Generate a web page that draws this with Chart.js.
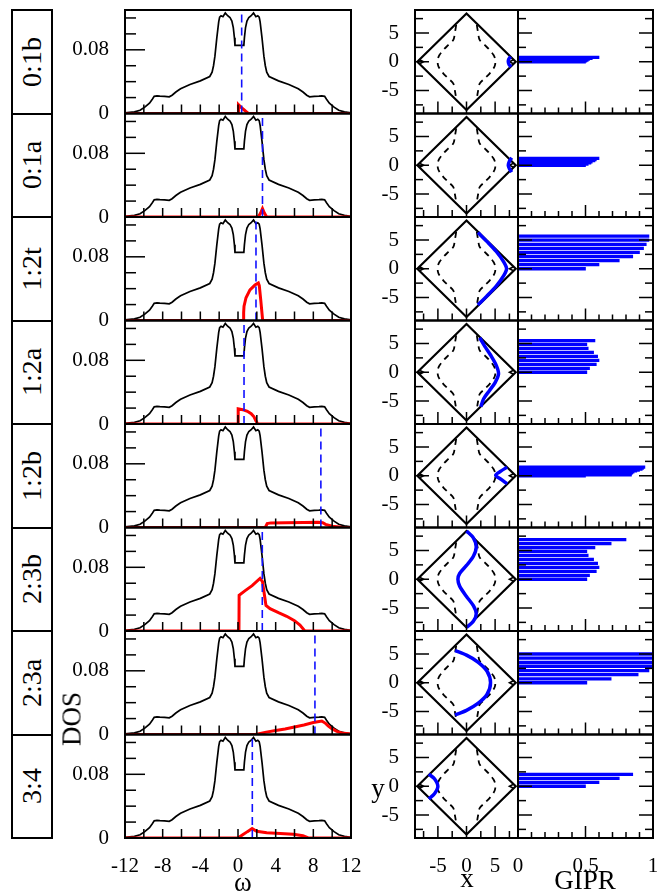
<!DOCTYPE html>
<html>
<head>
<meta charset="utf-8">
<script src="https://cdn.jsdelivr.net/npm/chart.js@4.4.1/dist/chart.umd.min.js"></script>
<style>
  body { margin: 0; background: #fff; }
  #fig { position: relative; width: 667px; height: 894px; overflow: hidden; font-family: "Liberation Serif", "DejaVu Serif", serif; color: #000; }
  #fig canvas { position: absolute; }
  .lab { position: absolute; left: 11px; width: 42px; border: 2px solid #000; box-sizing: border-box; display: flex; align-items: center; justify-content: center; }
  .lab span { transform: rotate(-90deg); font-size: 28px; white-space: nowrap; }
  .txt { position: absolute; transform: translate(-50%, -50%); font-size: 27px; white-space: nowrap; }
</style>
</head>
<body>
<div id="fig"></div>
<script>
const rowLabels = ['0:1b', '0:1a', '1:2t', '1:2a', '1:2b', '2:3b', '2:3a', '3:4'];

// total DOS (black), same curve in every row
const dosOmega = [-12, -11, -10.4, -9.9, -9.4, -9.1, -8.9, -8.6, -8.3, -7.8, -7.3, -7.0, -6.6, -6.1, -5.1, -4.0, -3.0, -2.75, -2.6, -2.45, -2.25, -2.05, -1.95, -1.8, -1.6, -1.35, -1.1, -0.85, -0.65, -0.5, -0.38, -0.32,
                  0.62, 0.68, 0.8, 0.95, 1.15, 1.4, 1.65, 1.9, 2.1, 2.25, 2.35, 2.55, 2.75, 2.9, 3.05, 3.3, 4.3, 5.4, 6.4, 6.9, 7.3, 7.6, 8.1, 8.6, 8.9, 9.2, 9.4, 9.7, 10.2, 10.7, 11.3, 12];
const dosValue = [0.0008, 0.002, 0.004, 0.008, 0.013, 0.018, 0.0215, 0.0222, 0.0218, 0.0216, 0.021, 0.023, 0.027, 0.031, 0.0365, 0.041, 0.0465, 0.052, 0.06, 0.072, 0.095, 0.115, 0.121, 0.1228, 0.1216, 0.1262, 0.1228, 0.1206, 0.116, 0.108, 0.095, 0.0855,
                  0.0855, 0.095, 0.108, 0.116, 0.1206, 0.1228, 0.1262, 0.1216, 0.1228, 0.121, 0.115, 0.095, 0.072, 0.06, 0.052, 0.0465, 0.041, 0.0365, 0.031, 0.027, 0.023, 0.021, 0.0216, 0.0218, 0.0222, 0.0215, 0.018, 0.013, 0.008, 0.004, 0.002, 0.0008];

// partial DOS (red), one list per row
const pdosOmega = [
  [-12, 0.02, 0.05, 0.3, 0.6, 0.9, 1.1, 12],
  [-12, 2.15, 2.4, 2.6, 2.8, 3.05, 12],
  [-12, 0.57, 0.6, 0.64, 0.85, 1.27, 1.8, 2.16, 2.26, 2.41, 2.62, 12],
  [-12, 0, 0.02, 0.5, 1.0, 1.4, 1.7, 1.9, 2.1, 12],
  [-12, 2.9, 3.1, 3.5, 5, 7, 8.5, 9.0, 9.3, 10, 11, 12],
  [-12, 0.1, 0.12, 0.8, 1.5, 2.34, 2.6, 2.97, 3.4, 4.3, 5.17, 6.0, 6.58, 7.1, 12],
  [-12, 1.8, 2, 3, 4, 5, 6, 7, 8, 8.9, 9.3, 9.6, 10, 10.5, 11, 12],
  [-12, 0, 0.5, 1.0, 1.5, 1.98, 3.05, 4.5, 5.87, 6.9, 7.47, 12]
];
const pdosValue = [
  [0, 0, 0.011, 0.008, 0.005, 0.002, 0, 0],
  [0, 0, 0.005, 0.0105, 0.005, 0, 0],
  [0, 0, 0.01, 0.018, 0.0286, 0.0385, 0.0445, 0.047, 0.0437, 0.0265, 0, 0],
  [0, 0, 0.019, 0.018, 0.016, 0.013, 0.009, 0.004, 0, 0],
  [0, 0, 0.005, 0.0058, 0.006, 0.0063, 0.0065, 0.006, 0.004, 0.0015, 0.0003, 0],
  [0, 0, 0.045, 0.051, 0.057, 0.066, 0.062, 0.032, 0.028, 0.023, 0.0185, 0.013, 0.0075, 0, 0],
  [0, 0, 0.0005, 0.003, 0.005, 0.007, 0.0095, 0.012, 0.015, 0.017, 0.014, 0.0105, 0.007, 0.004, 0.002, 0.0005],
  [0, 0, 0.004, 0.008, 0.0118, 0.0085, 0.0065, 0.0055, 0.0047, 0.0028, 0, 0]
];

// blue dashed marker
const markerOmega = [0.39, 2.6, 1.91, 0.64, 8.8, 2.58, 8.17, 1.52];

// Fermi surface panel
const diamondX = [-8.6, 0, 8.6, 0, -8.6];
const diamondY = [0, 8.4, 0, -8.4, 0];
const contourRX = [1.8, 2.0, 2.3, 3.2, 4.0, 4.7, 5.0, 5.0, 4.7, 4.0, 3.2, 2.3, 2.0, 1.8];
const contourRY = [6.4, 5.2, 3.8, 2.9, 2.1, 1.2, 0.5, -0.5, -1.2, -2.1, -2.9, -3.8, -5.2, -6.4];
const contourLX = [-1.8, -2.0, -2.3, -3.2, -4.0, -4.7, -5.0, -5.0, -4.7, -4.0, -3.2, -2.3, -2.0, -1.8];
const contourLY = [6.4, 5.2, 3.8, 2.9, 2.1, 1.2, 0.5, -0.5, -1.2, -2.1, -2.9, -3.8, -5.2, -6.4];
const cornerLX = [-8.2, -7.5, -8.2];
const cornerLY = [0.35, 0, -0.35];
const cornerRX = [8.2, 7.5, 8.2];
const cornerRY = [0.35, 0, -0.35];

// blue path, one per row
const pathX = [
  [7.7, 7.4, 7.3, 7.45, 7.8],
  [7.9, 7.5, 7.3, 7.5, 7.9],
  [2.0, 3.5, 5.2, 6.5, 7.0, 6.5, 5.2, 3.5, 2.0],
  [2.3, 3.2, 4.2, 5.2, 5.6, 5.0, 4.0, 3.0, 2.5],
  [7.1, 6.0, 5.1, 6.0, 7.1],
  [0, 1.2, 1.7, 1.2, 0, -1.2, -1.5, -1.2, 0, 1.2, 1.7, 1.2, 0],
  [-2, 0, 2, 3.6, 4.2, 3.6, 2, 0, -2],
  [-6.6, -5.6, -5.0, -5.6, -6.6]
];
const pathY = [
  [0.9, 0.5, 0, -0.5, -0.9],
  [1.3, 0.7, 0, -0.6, -1.2],
  [6.3, 4.8, 3.0, 1.2, 0, -1.2, -3.0, -4.8, -6.3],
  [6.0, 4.5, 3.0, 1.2, -0.3, -1.8, -3.2, -4.6, -6.0],
  [1.5, 0.8, 0.1, -0.6, -1.4],
  [8.4, 7.2, 5.6, 4.0, 2.4, 1.0, 0, -1.2, -3.0, -4.6, -6.0, -7.3, -8.4],
  [5.6, 4.8, 3.6, 2, 0, -2, -3.6, -4.8, -5.6],
  [2.1, 1.3, 0, -1.3, -2.2]
];

// GIPR bars
const giprY = [
  [0, 0.15, 0.3, 0.45, 0.6, 0.75],
  [0, 0.2, 0.4, 0.6, 0.8, 1.0, 1.2],
  [0, 0.71, 1.42, 2.13, 2.84, 3.55, 4.26, 4.97, 5.68],
  [0, 0.69, 1.38, 2.07, 2.76, 3.45, 4.14, 4.83, 5.52],
  [0, 0.17, 0.33, 0.5, 0.67, 0.83, 1.0, 1.17, 1.33, 1.5],
  [0, 0.69, 1.38, 2.07, 2.76, 3.45, 4.14, 4.83, 5.52, 6.21, 6.9],
  [0, 0.69, 1.43, 2.12, 2.87, 3.56, 4.3, 5.0],
  [0, 0.69, 1.38, 2.07]
];
const giprValue = [
  [0.5, 0.51, 0.52, 0.53, 0.55, 0.6],
  [0.5, 0.52, 0.54, 0.55, 0.57, 0.58, 0.6],
  [0.5, 0.6, 0.75, 0.85, 0.9, 0.93, 0.95, 0.97, 0.97],
  [0.51, 0.53, 0.58, 0.6, 0.59, 0.56, 0.52, 0.51, 0.57],
  [0.5, 0.84, 0.84, 0.85, 0.86, 0.88, 0.9, 0.92, 0.93, 0.94],
  [0.51, 0.53, 0.58, 0.6, 0.59, 0.56, 0.52, 0.51, 0.57, 0.69, 0.8],
  [0.51, 0.69, 0.89, 0.97, 0.99, 1.0, 1.0, 1.0],
  [0.5, 0.6, 0.75, 0.85]
];

// tick positions
const omegaTicks = [-10, -8, -6, -4, -2, 0, 2, 4, 6, 8, 10];
const dosTicks = [0.02, 0.04, 0.06, 0.08, 0.1, 0.12];
const kTicks = [-7.5, -5, -2.5, 0, 2.5, 5, 7.5];
const giprTicks = [0.1, 0.2, 0.3, 0.4, 0.5, 0.6, 0.7, 0.8, 0.9];

const FONT = '"Liberation Serif", "DejaVu Serif", serif';
Chart.defaults.font.family = FONT;
Chart.defaults.color = '#000';

const ROW_TOP = 10, ROW_H = 103.5;
const fig = document.getElementById('fig');
const tickMarks = new Map();

// inward tick marks + frame, drawn from the chart's own scales
const framePlugin = {
  id: 'frame',
  afterDraw(chart) {
    const ctx = chart.ctx;
    const a = chart.chartArea;
    const marks = tickMarks.get(chart.canvas.id) || [];
    ctx.save();
    ctx.setLineDash([]);
    ctx.fillStyle = '#000';
    for (const m of marks) {
      const s = chart.scales[m.scale];
      for (const v of m.values) {
        const len = m.major.indexOf(v) >= 0 ? m.long : m.short;
        const p = s.getPixelForValue(v);
        if (m.side === 'bottom') ctx.fillRect(p - 0.75, a.bottom - len, 1.5, len);
        else if (m.side === 'left') ctx.fillRect(a.left, p - 0.75, len, 1.5);
        else ctx.fillRect(a.right - len, p - 0.75, len, 1.5);
      }
    }
    ctx.lineWidth = 2;
    ctx.strokeStyle = '#000';
    ctx.strokeRect(a.left, a.top, a.right - a.left, a.bottom - a.top);
    ctx.restore();
  }
};

function xy(xs, ys) { return xs.map((x, i) => ({ x: x, y: ys[i] })); }
function near(a, b) { return Math.abs(a - b) < 1e-6; }

let canvasCount = 0;
// canvas placed so the plot area lands exactly on the given box
function placeCanvas(plotL, plotT, plotW, plotH, pad, marks) {
  const cl = plotL - pad.l;
  const ct = Math.floor(plotT) - pad.t;
  const cw = plotW + pad.l + pad.r;
  const ch = Math.ceil(plotT + plotH - ct + pad.b);
  const c = document.createElement('canvas');
  c.id = 'cv' + (canvasCount++);
  c.width = cw; c.height = ch;
  c.style.left = cl + 'px'; c.style.top = ct + 'px';
  c.style.width = cw + 'px'; c.style.height = ch + 'px';
  fig.appendChild(c);
  tickMarks.set(c.id, marks);
  return { canvas: c, layout: { left: 0, right: pad.r, top: plotT - ct, bottom: ch - (plotT + plotH - ct) - pad.b } };
}

function axis(min, max, step, showLabels, labelFn, size, isX) {
  return {
    type: 'linear', min: min, max: max, offset: false,
    grid: { display: false }, border: { display: false },
    ticks: {
      stepSize: step, includeBounds: false, autoSkip: false, maxRotation: 0,
      display: showLabels, padding: 8, font: { size: 21, family: FONT }, color: '#000',
      callback: labelFn
    },
    afterFit: s => {
      if (isX) s.height = size; else s.width = size;
      s.paddingLeft = 0; s.paddingRight = 0; s.paddingTop = 0; s.paddingBottom = 0;
    }
  };
}

function common(layout) {
  return {
    responsive: false, animation: false, events: [],
    layout: { padding: layout },
    plugins: { legend: { display: false }, tooltip: { enabled: false } }
  };
}

const dosLabel = v => (near(v, 0) ? '0' : near(v, 0.08) ? '0.08' : '');
const omegaLabel = v => (near(v % 4, 0) ? String(v) : '');
const fiveLabel = v => (near(v, 0) ? '0' : near(v, 5) ? '5' : near(v, -5) ? '-5' : '');
const giprLabel = v => (near(v, 0) ? '0' : near(v, 0.5) ? '0.5' : near(v, 1) ? '1' : '');

rowLabels.forEach((name, r) => {
  const top = ROW_TOP + r * ROW_H;
  const last = r === rowLabels.length - 1;
  const padB = last ? 42 : 14;

  // label box
  const box = document.createElement('div');
  box.className = 'lab';
  box.style.top = (top - 1) + 'px';
  box.style.height = (ROW_H + 2) + 'px';
  box.innerHTML = '<span>' + name + '</span>';
  fig.appendChild(box);

  // DOS panel
  let p = placeCanvas(125, top, 226, ROW_H, { l: 60, r: 14, t: 3, b: padB }, [
    { scale: 'x', side: 'bottom', values: omegaTicks, short: 9, long: 9, major: [] },
    { scale: 'y', side: 'left', values: dosTicks, short: 11, long: 20, major: [0.08] }
  ]);
  new Chart(p.canvas, {
    type: 'scatter',
    plugins: [framePlugin],
    data: {
      datasets: [
        { data: [{ x: markerOmega[r], y: 0 }, { x: markerOmega[r], y: 0.13 }], showLine: true, pointRadius: 0, borderColor: '#1010ff', borderWidth: 1.6, borderDash: [8, 5] },
        { data: xy(pdosOmega[r], pdosValue[r]), showLine: true, pointRadius: 0, borderColor: '#ff0000', borderWidth: 3 },
        { data: xy(dosOmega, dosValue), showLine: true, pointRadius: 0, borderColor: '#000', borderWidth: 1.7 }
      ]
    },
    options: Object.assign(common(p.layout), {
      scales: {
        x: axis(-12, 12, 2, last, omegaLabel, padB, true),
        y: axis(0, 0.13, 0.02, true, dosLabel, 60, false)
      }
    })
  });

  // Fermi surface panel
  p = placeCanvas(415, top, 103, ROW_H, { l: 34, r: 3, t: 3, b: padB }, [
    { scale: 'x', side: 'bottom', values: kTicks, short: 7, long: 12, major: [-5, 0, 5] },
    { scale: 'y', side: 'left', values: kTicks, short: 8, long: 14, major: [-5, 0, 5] }
  ]);
  new Chart(p.canvas, {
    type: 'scatter',
    plugins: [framePlugin],
    data: {
      datasets: [
        { data: xy(pathX[r], pathY[r]), showLine: true, pointRadius: 0, borderColor: '#0000ff', borderWidth: 3.5, tension: 0.3 },
        { data: xy(diamondX, diamondY), showLine: true, pointRadius: 0, borderColor: '#000', borderWidth: 2.2 },
        { data: xy(contourRX, contourRY), showLine: true, pointRadius: 0, borderColor: '#000', borderWidth: 1.8, borderDash: [6, 5], tension: 0.3 },
        { data: xy(contourLX, contourLY), showLine: true, pointRadius: 0, borderColor: '#000', borderWidth: 1.8, borderDash: [6, 5], tension: 0.3 },
        { data: xy(cornerLX, cornerLY), showLine: true, pointRadius: 0, borderColor: '#000', borderWidth: 1.5 },
        { data: xy(cornerRX, cornerRY), showLine: true, pointRadius: 0, borderColor: '#000', borderWidth: 1.5 }
      ]
    },
    options: Object.assign(common(p.layout), {
      scales: {
        x: axis(-9, 9, 2.5, last, fiveLabel, padB, true),
        y: axis(-9, 9, 2.5, true, fiveLabel, 34, false)
      }
    })
  });

  // GIPR panel
  p = placeCanvas(518, top, 135, ROW_H, { l: 10, r: 12, t: 3, b: padB }, [
    { scale: 'x', side: 'bottom', values: giprTicks, short: 6, long: 12, major: [0.5] },
    { scale: 'y', side: 'left', values: kTicks, short: 8, long: 14, major: [-5, 0, 5] },
    { scale: 'y', side: 'right', values: kTicks, short: 8, long: 14, major: [-5, 0, 5] }
  ]);
  new Chart(p.canvas, {
    type: 'bar',
    plugins: [framePlugin],
    data: {
      datasets: [
        { data: giprY[r].map((y, i) => ({ x: giprValue[r][i], y: y })), backgroundColor: '#0000ff', borderWidth: 0, barThickness: 2.6 }
      ]
    },
    options: Object.assign(common(p.layout), {
      indexAxis: 'y',
      scales: {
        x: axis(0, 1, 0.1, last, giprLabel, padB, true),
        y: axis(-9, 9, 2.5, false, fiveLabel, 10, false)
      }
    })
  });
});

// axis titles
[['ω', 243, 882, 0], ['x', 467, 878, 0], ['GIPR', 585, 880, 0], ['y', 378, 788, 0], ['DOS', 72, 719, -90]].forEach(t => {
  const d = document.createElement('div');
  d.className = 'txt';
  d.textContent = t[0];
  d.style.left = t[1] + 'px';
  d.style.top = t[2] + 'px';
  if (t[3]) d.style.transform = 'translate(-50%, -50%) rotate(' + t[3] + 'deg)';
  fig.appendChild(d);
});
</script>
</body>
</html>
